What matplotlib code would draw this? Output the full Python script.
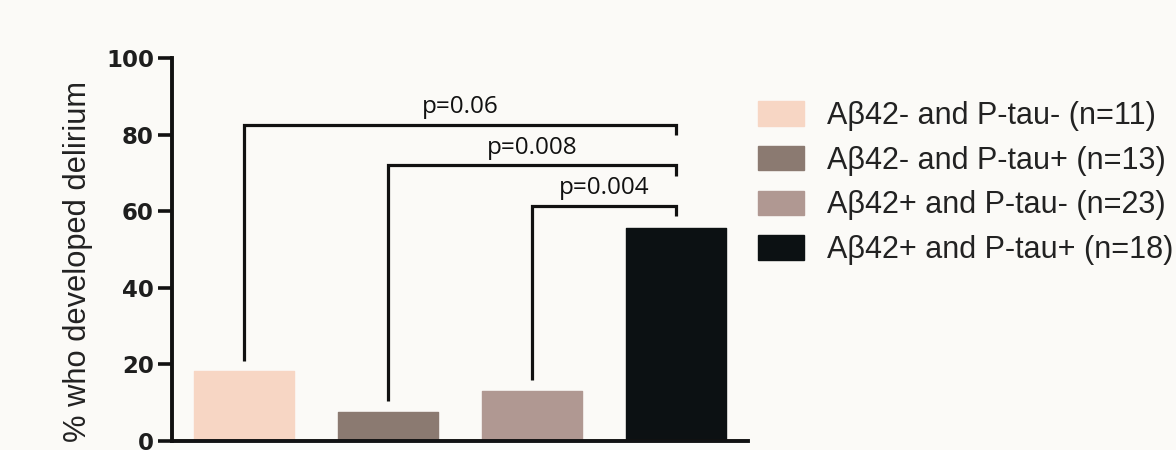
import matplotlib
matplotlib.use("Agg")
import matplotlib.pyplot as plt
from matplotlib.patches import Patch
from matplotlib import font_manager as fm

# Percentage of patients who developed delirium, by CSF biomarker group
groups = ["Aβ42- and P-tau- (n=11)", "Aβ42- and P-tau+ (n=13)",
          "Aβ42+ and P-tau- (n=23)", "Aβ42+ and P-tau+ (n=18)"]
pct_delirium = [18.2, 7.7, 13.0, 55.6]
colors = ["#F7D6C4", "#8B7A71", "#B09892", "#0C1113"]

# Pairwise comparisons against the Aβ42+/P-tau+ group:
# (left group, right group, p label, bracket height, left leg end, right leg end)
comparisons = [
    (0, 3, "p=0.06", 82.7, 21.0, 80.0),
    (1, 3, "p=0.008", 72.0, 10.5, 69.3),
    (2, 3, "p=0.004", 61.5, 16.0, 58.7),
]

yticks = [0, 20, 40, 60, 80, 100]


def regular_width_font(name, weight):
    """Pick the normal-width face of a family (avoid the Narrow variant)."""
    for f in fm.fontManager.ttflist:
        if (f.name == name and f.weight == weight
                and f.stretch == "normal" and "Narrow" not in f.fname
                and f.style == "normal"):
            return fm.FontProperties(fname=f.fname)
    return fm.FontProperties(family=name, weight=weight)


reg_fp = regular_width_font("Liberation Sans", 400)

bg = "#FBFAF7"
fig = plt.figure(figsize=(11.76, 4.5), dpi=100, facecolor=bg)
ax = fig.add_axes([0.1463, 0.02, 0.636 - 0.1463, 0.8504])
ax.set_facecolor(bg)

x = list(range(len(groups)))
ax.bar(x, pct_delirium, width=0.69, color=colors, edgecolor=colors,
       linewidth=1.0, joinstyle="round", zorder=2)

for i, j, label, h, yl, yr in comparisons:
    ax.plot([i, i, j, j], [yl, h, h, yr], color="#111111", lw=2.3,
            solid_joinstyle="miter", solid_capstyle="butt", zorder=3,
            clip_on=False)
    ax.text((i + j) / 2, h + 1.4, label, ha="center", va="bottom",
            fontsize=17.5, family="Open Sans", color="#111111")

ax.set_xlim(-0.5, 3.5)
ax.set_ylim(0, 100)
ax.set_xticks([])
ax.set_yticks(yticks)
ax.set_yticklabels([str(t) for t in yticks], fontsize=16.5, fontweight="bold",
                   family="DejaVu Sans", color="#1E1E1E")
ax.tick_params(axis="y", length=10, width=2.6, color="#111111", pad=3)
for side in ("top", "right"):
    ax.spines[side].set_visible(False)
for side in ("left", "bottom"):
    ax.spines[side].set_linewidth(2.8)
    ax.spines[side].set_color("#111111")

label_fp = reg_fp.copy()
label_fp.set_size(22.2)
ax.set_ylabel("% who developed delirium", fontproperties=label_fp,
              color="#222222")
ax.yaxis.set_label_coords(-0.137, 0.47)

legend_fp = reg_fp.copy()
legend_fp.set_size(22)
handles = [Patch(facecolor=c, edgecolor=c, joinstyle="round") for c in colors]
leg = fig.legend(handles, groups, loc="upper left",
                 bbox_to_anchor=(758 / 1176, 1 - 101 / 450), frameon=False,
                 prop=legend_fp, borderpad=0, borderaxespad=0,
                 handlelength=1.5, handleheight=0.85, handletextpad=0.75,
                 labelspacing=0.48, labelcolor="#222222")

fig.savefig("out.png", dpi=100, facecolor=bg)
